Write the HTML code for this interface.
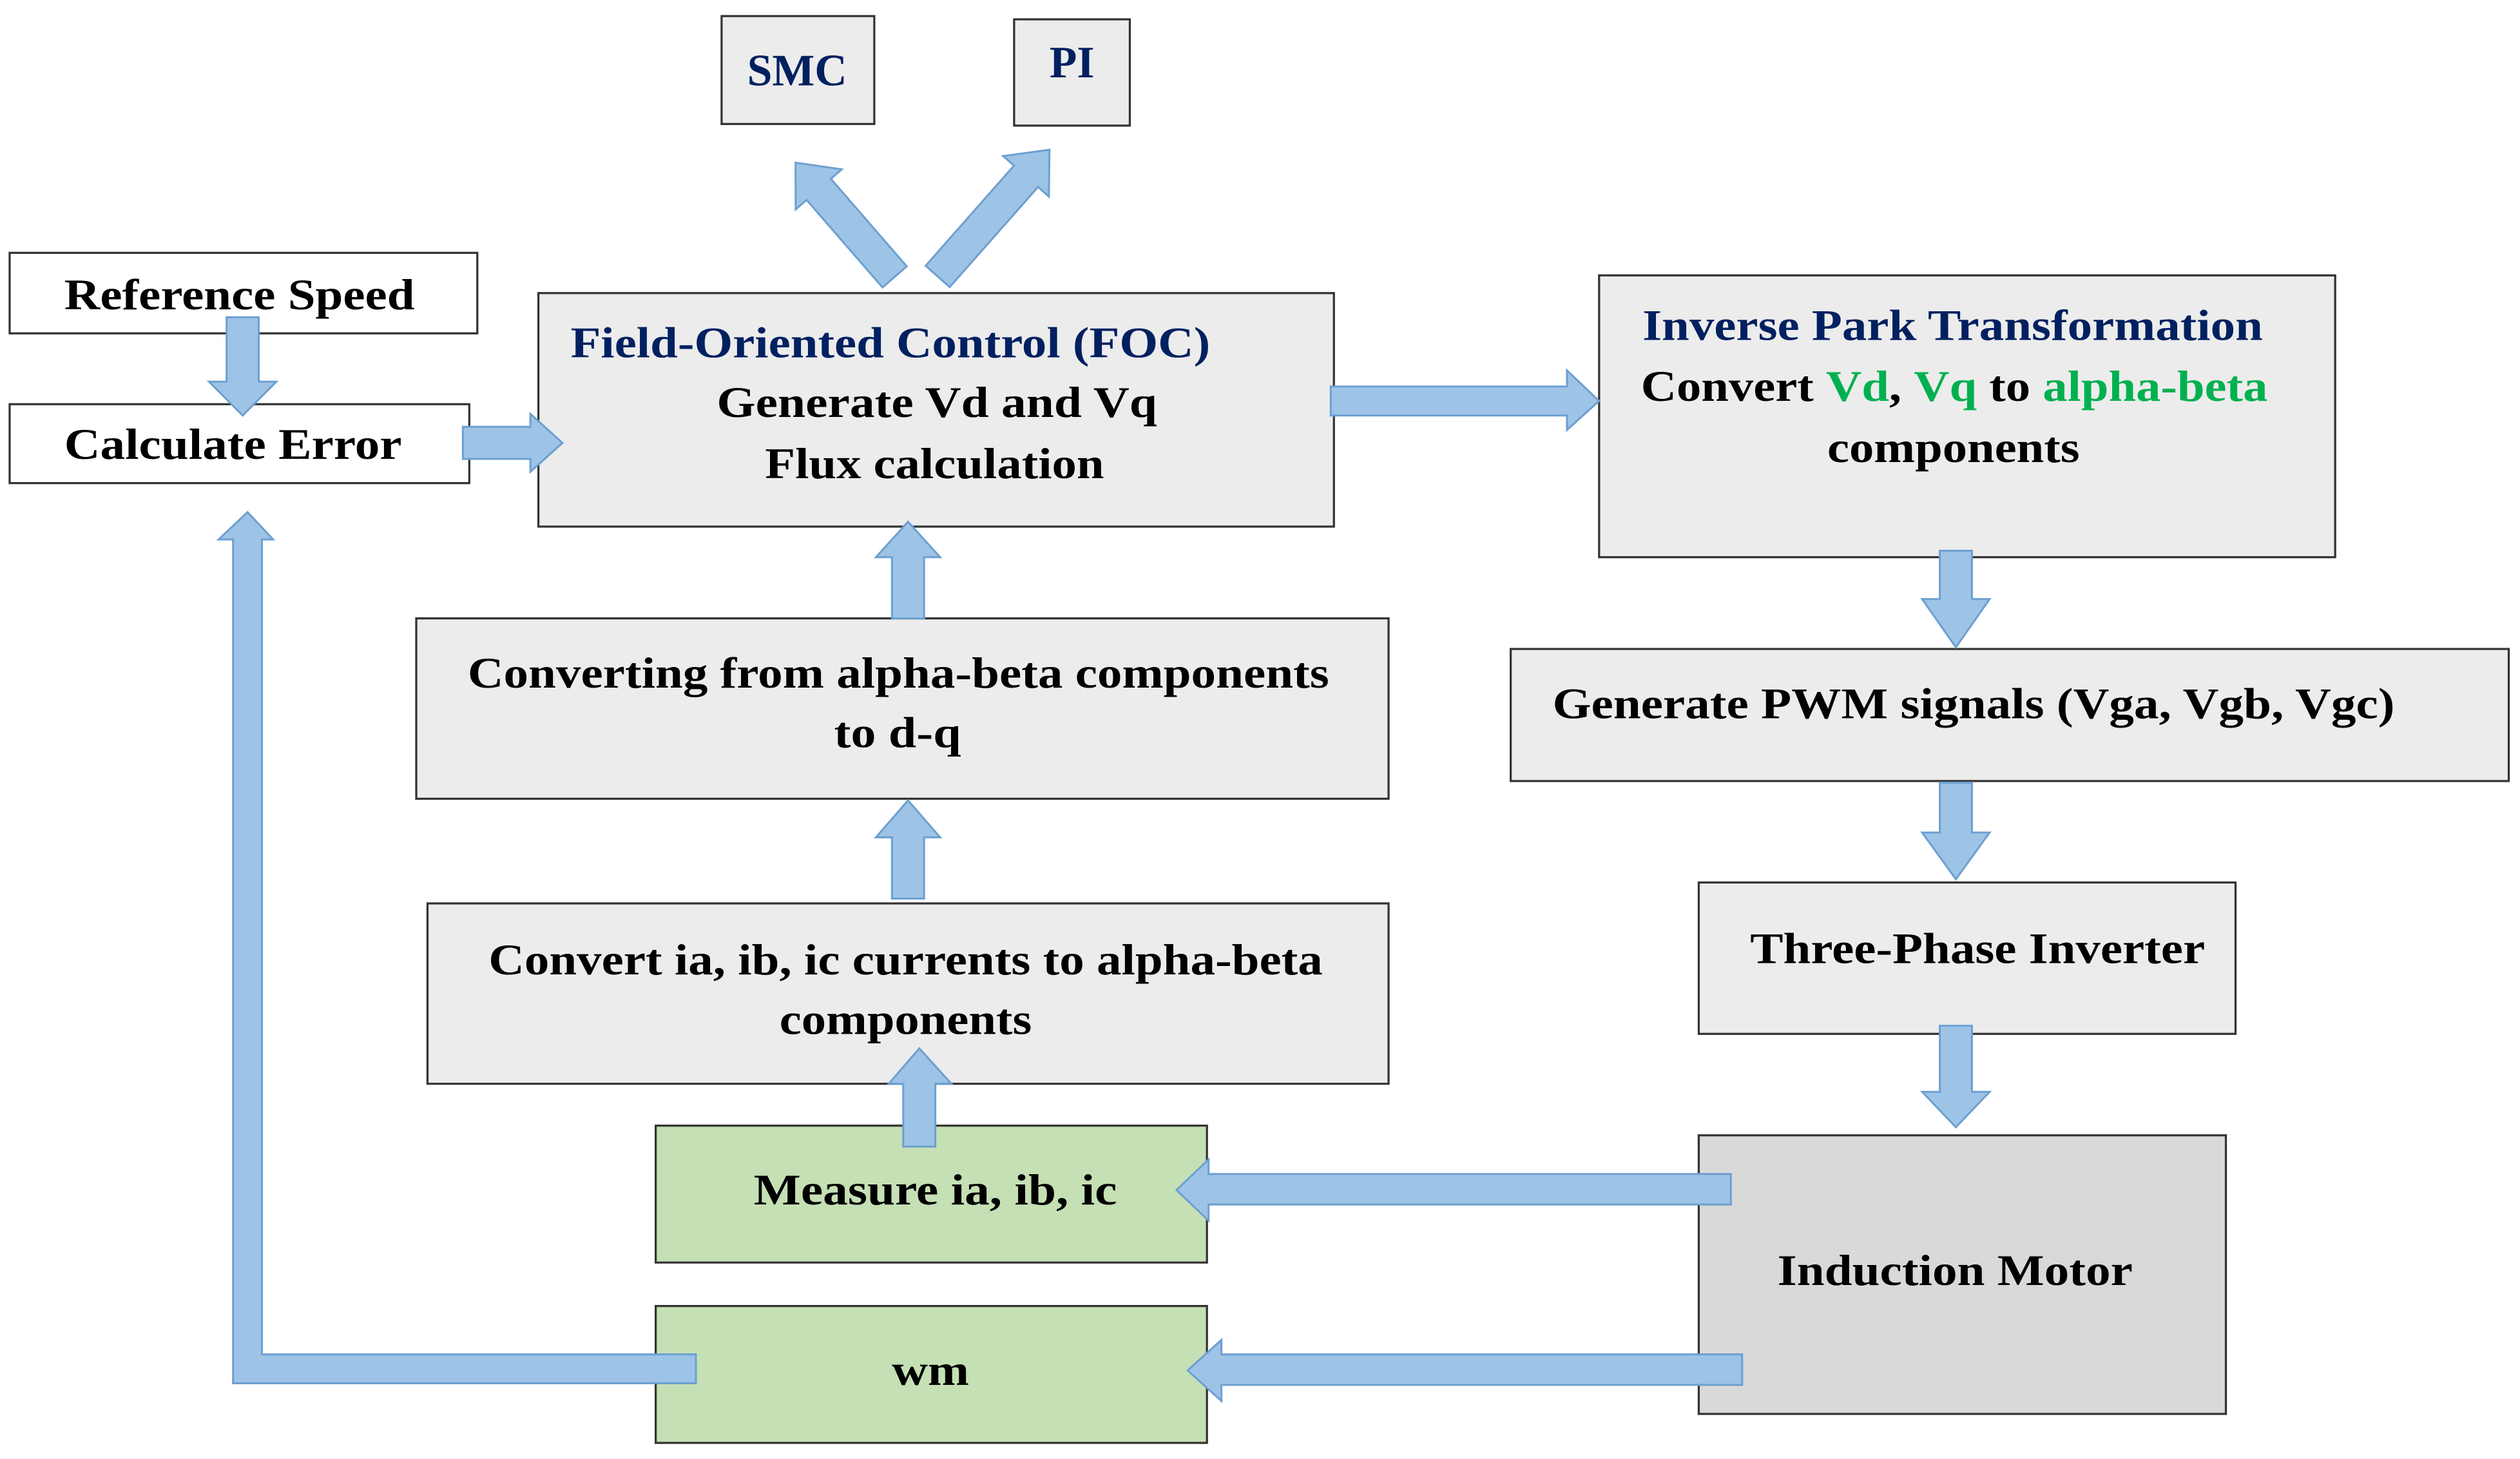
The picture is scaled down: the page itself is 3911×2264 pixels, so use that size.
<!DOCTYPE html>
<html><head><meta charset="utf-8"><style>html,body{margin:0;padding:0;background:#fff}svg{display:block}</style></head>
<body>
<svg width="3911" height="2264" viewBox="0 0 1568 906" preserveAspectRatio="none" xmlns="http://www.w3.org/2000/svg">
<defs>
<path id="up" d="M0,0 L19,22 L10,22 L10,100 L-10,100 L-10,22 L-19,22 Z"/>
</defs>
<g stroke="#333" stroke-width="1.3">
<rect x="449" y="10" width="95" height="67" fill="#ececec"/>
<rect x="631" y="12" width="72" height="66" fill="#ececec"/>
<rect x="6" y="157" width="291" height="50" fill="#fff"/>
<rect x="6" y="251" width="286" height="49" fill="#fff"/>
<rect x="335" y="182" width="495" height="145" fill="#ececec"/>
<rect x="995" y="171" width="458" height="175" fill="#ececec"/>
<rect x="940" y="403" width="621" height="82" fill="#ececec"/>
<rect x="259" y="384" width="605" height="112" fill="#ececec"/>
<rect x="266" y="561" width="598" height="112" fill="#ececec"/>
<rect x="1057" y="548" width="334" height="94" fill="#ececec"/>
<rect x="408" y="699" width="343" height="85" fill="#c5e0b4"/>
<rect x="408" y="811" width="343" height="85" fill="#c5e0b4"/>
<rect x="1057" y="705" width="328" height="173" fill="#d9d9d9"/>
</g>
<g fill="#9dc3e6" stroke="#6d9fd1" stroke-width="1.2">
<!-- Ref -> Calc -->
<polygon points="141,197 161,197 161,237 172,237 151,258 130,237 141,237"/>
<!-- Calc -> FOC -->
<polygon points="288,265 330,265 330,257 350,275 330,293 330,285 288,285"/>
<!-- FOC -> Inverse -->
<polygon points="828,240 975,240 975,230 995,249 975,267 975,258 828,258"/>
<!-- down arrows right column -->
<polygon points="1207,342 1227,342 1227,372 1238,372 1217,402 1196,372 1207,372"/>
<polygon points="1207,486 1227,486 1227,517 1238,517 1217,546 1196,517 1207,517"/>
<polygon points="1207,637 1227,637 1227,678 1238,678 1217,700 1196,678 1207,678"/>
<!-- Motor -> Measure -->
<polygon points="1077,729 1077,748 752,748 752,758 732,739 752,720 752,729"/>
<!-- Motor -> wm -->
<polygon points="1084,841 1084,860 760,860 760,870 739,851 760,832 760,841"/>
<!-- wm loop -->
<polygon points="433,841 433,859 145,859 145,335 136,335 154,318 170,335 163,335 163,841"/>
<!-- up arrows middle -->
<polygon points="562,712 582,712 582,673 592,673 572,651 553,673 562,673"/>
<polygon points="555,558 575,558 575,520 585,520 565,497 545,520 555,520"/>
<polygon points="555,384 575,384 575,346 585,346 565,324 545,346 555,346"/>
<!-- diagonals -->
<g transform="translate(495,101) rotate(-41)"><polygon points="0,0 19,22 10,22 10,94 -10,94 -10,22 -19,22"/></g>
<g transform="translate(653,93) rotate(41.5)"><polygon points="0,0 19,22 10,22 10,105 -10,105 -10,22 -19,22"/></g>
</g>
<g font-family="'Liberation Serif',serif" font-weight="bold" font-size="27" fill="#000">
<text x="496" y="53" text-anchor="middle" fill="#002060" font-size="28">SMC</text>
<text x="667" y="48" text-anchor="middle" fill="#002060" font-size="28">PI</text>
<text x="40" y="192" textLength="218" lengthAdjust="spacingAndGlyphs">Reference Speed</text>
<text x="40" y="285" textLength="210" lengthAdjust="spacingAndGlyphs">Calculate Error</text>
<text x="355" y="222" fill="#002060" textLength="398" lengthAdjust="spacingAndGlyphs">Field-Oriented Control (FOC)</text>
<text x="446" y="259" textLength="274" lengthAdjust="spacingAndGlyphs">Generate Vd and Vq</text>
<text x="476" y="297" textLength="211" lengthAdjust="spacingAndGlyphs">Flux calculation</text>
<text x="1022" y="211" fill="#002060" textLength="386" lengthAdjust="spacingAndGlyphs">Inverse Park Transformation</text>
<text x="1021" y="249" textLength="390" lengthAdjust="spacingAndGlyphs">Convert <tspan fill="#00b050">Vd</tspan>, <tspan fill="#00b050">Vq</tspan> to <tspan fill="#00b050">alpha-beta</tspan></text>
<text x="1137" y="287" textLength="157" lengthAdjust="spacingAndGlyphs">components</text>
<text x="966" y="446" textLength="524" lengthAdjust="spacingAndGlyphs">Generate PWM signals (Vga, Vgb, Vgc)</text>
<text x="291" y="427" textLength="536" lengthAdjust="spacingAndGlyphs">Converting from alpha-beta components</text>
<text x="519" y="464" textLength="79" lengthAdjust="spacingAndGlyphs">to d-q</text>
<text x="304" y="605" textLength="519" lengthAdjust="spacingAndGlyphs">Convert ia, ib, ic currents to alpha-beta</text>
<text x="485" y="642" textLength="157" lengthAdjust="spacingAndGlyphs">components</text>
<text x="1089" y="598" textLength="283" lengthAdjust="spacingAndGlyphs">Three-Phase Inverter</text>
<text x="469" y="748" textLength="226" lengthAdjust="spacingAndGlyphs">Measure ia, ib, ic</text>
<text x="555" y="860" textLength="48" lengthAdjust="spacingAndGlyphs">wm</text>
<text x="1106" y="798" textLength="221" lengthAdjust="spacingAndGlyphs">Induction Motor</text>
</g>
</svg>
</body></html>
